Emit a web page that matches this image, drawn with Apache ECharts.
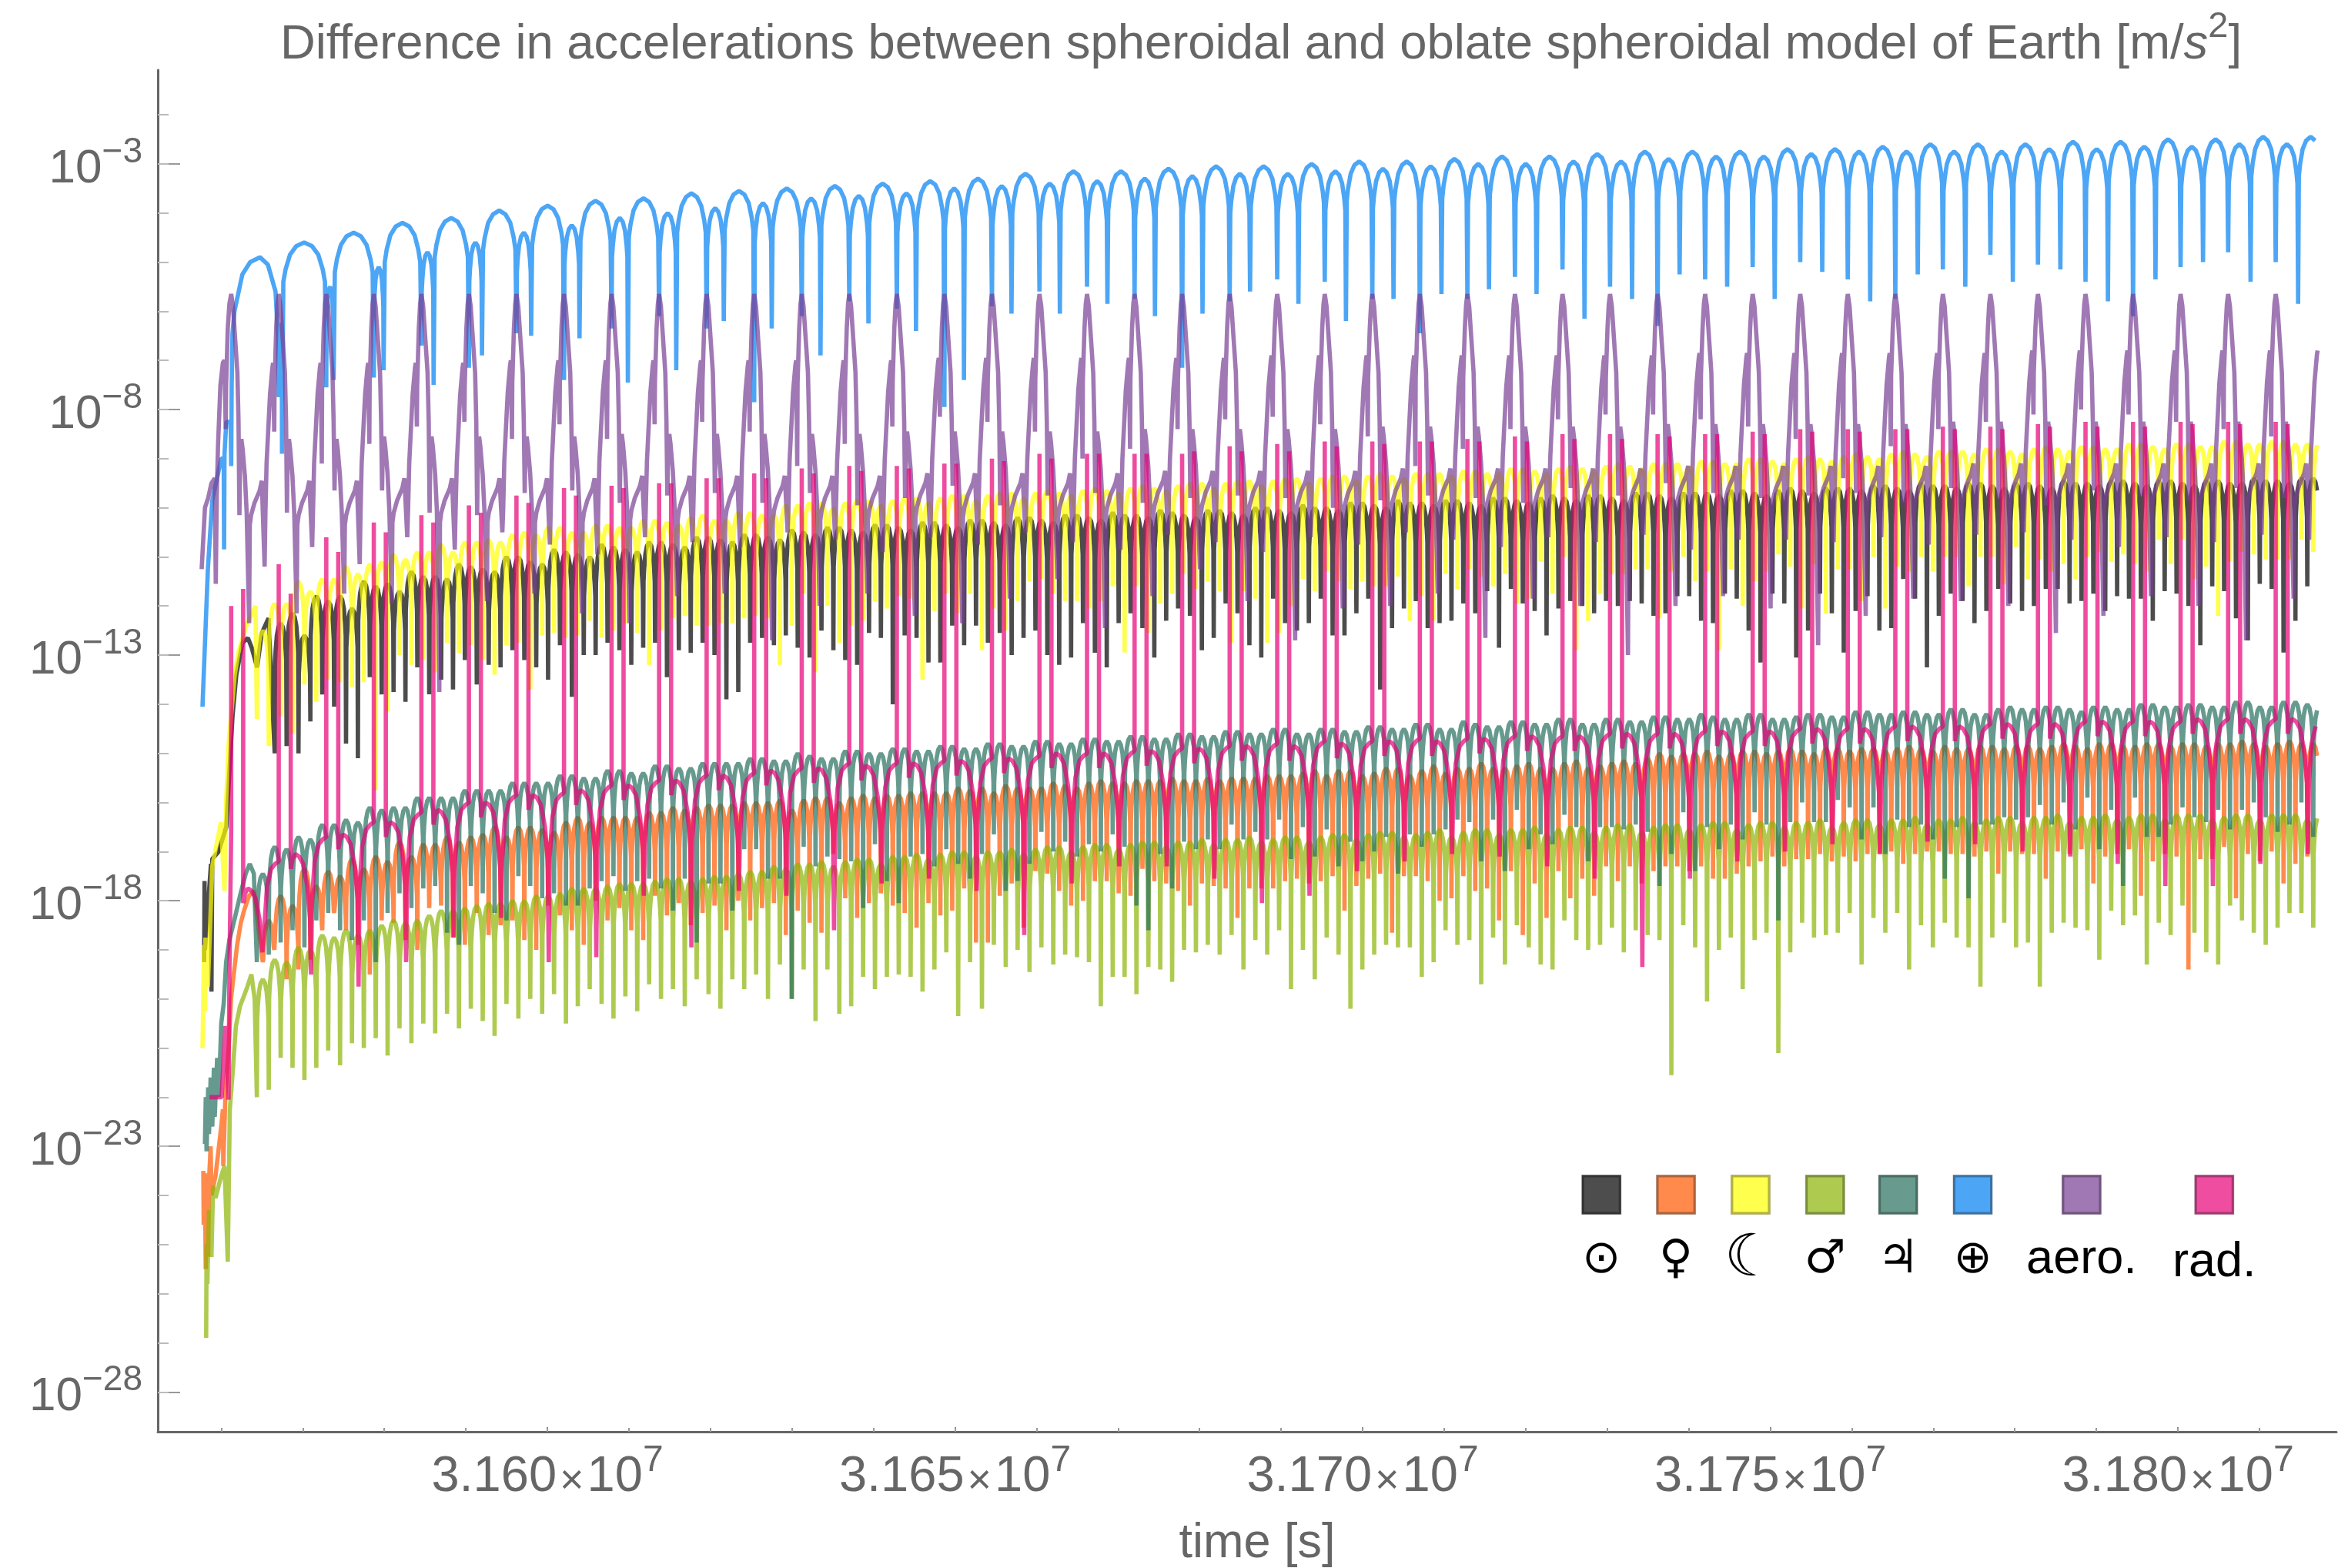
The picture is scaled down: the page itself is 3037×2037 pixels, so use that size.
<!DOCTYPE html>
<html><head><meta charset="utf-8">
<script src="https://cdn.jsdelivr.net/npm/echarts@6/dist/echarts.min.js"></script>
<style>html,body{margin:0;background:#fff}#c{width:3037px;height:2037px}</style></head>
<body><div id="c"></div>
<script>
const titleText='Difference in accelerations between spheroidal and oblate spheroidal model of Earth [m/';
const xTickLabels=[31600000,31650000,31700000,31750000,31800000];
const yTickLabels=[-28,-23,-18,-13,-8,-3];
const names=['Sun','Venus','Moon','Mars','Jupiter','Earth','aero.','rad.'];
const legendSymbols=['\u2299','\u2640','\u263E','\u2642','\u2643','\u2295','aero.','rad.'];
const colors=['#000000','#ff5800','#ffff00','#8bb505','#276f5e','#0080f1','#773e94','#e70078'];
const swatches=['#4d4d4d','#ff8a4c','#ffff4d','#aecb50','#689a8e','#4da6f5','#a078b4','#ee4da0'];
const swatchEdges=['#333333','#b0623a','#b3b336','#7b8f38','#496c63','#3674ac','#70547e','#a73670'];

const archShape=[[.03,16],[.08,11],[.18,5],[.32,1.5],[.5,0],[.68,1.5],[.82,5],[.92,11],[.97,16]];
const orbitStart=112.2, orbitPeriod=58.32, denseStart=143.7, denseStep=14.58, lastTime=2672;

// Earth
const blueHead=[[77,281],[83.6,225],[89,197],[100,180],[103,180],[103.5,217],[104,178],[106.2,165],[111.5,165],[112.2,183],[112.8,150],[113.8,129],[116.2,120],[125.9,105],[135.5,100],[147.5,98],[157.2,101],[166.6,112],[169.5,130]];
const blueDipA=[155,151,147,134,143,129,148,127,122,127,157,122,116,119,159,118,112,110,115,143,116,107,108,115,129,115,106,103,110,126,107,102,100,107,115,103,97,101,108,122,102,96,100];
const blueDipB=[178,148,144,150,138,130,131,149,144,124,127,138,125,128,148,121,121,117,122,121,112,117,124,115,113,111,113,123,115,105,110,115,104,116,105,110,108,103,116,107,100,108,117];
const blueGap=[4,9,12,15,16,18,19,20,21,21,21.5,23,23.5,23.5,24,24,25,25,25,25,25,26,26,26,26.5,26.5,26.5,27,27,27,27,27,27,27.5,27.5,27.5,27.5,27.5,27.5,27.5,27.5,27.5,27.5];
const blueSmall=[125,110,102,96,92,88,85,82,80,78,76,74,73,72,70,69,68,67,66,65,64,64,63,62,61,60,60,59,59,58,57,57,56,55,55,55,55,54,54,53,53,52,52];
const blueMain=[92,88,84,82,79,77,75,74,72,71,70,69,68,67,66,64,63,63,62,61,61,60,59,59,58,57,57,56,55,55,55,54,54,53,52,52,52,51,51,50,50,49,49];

// aero.
const purpleHead=[[76,225],[80,200],[84,196],[88,190],[92,188],[93.3,231],[94.5,195],[96,175],[99,150],[102,141],[104,140],[105.5,168],[106,150],[108,127],[110,117]];
const purplePeak=113;
const purpleSpikeA=[164,169,182,174,167,165,172,166,172,166,165,169,183,174,167,163,165,169,180,176,168,164,163,166,171,183,176,168,164,162,162,164,167,172,188,175,168,165,162,160,162,165,168,171];
const purpleSpikeB=[203,202,193,193,202,203,194,193,198,195,194,198,194,199,196,191,199,195,194,198,196,195,196,200,197,195,196,198,192,195,190,194,196,195,194,198,192,196,199,193,195,197,192,196];
const purpleDip1=[247,243,235,239,275,238,235,243,247,236,235,254,240,235,244,247,237,229,249,236,225,238,254,241,240,235,253,237,240,260,240,236,241,256,244,237,238,240,251,244,236,240,254,237];
const purpleDip2=[224,216,223,212,217,210,215,219,212,214,216,210,213,218,212,215,210,214,217,211,214,218,212,215,210,213,216,212,214,211,217,213,213,214,212,215,211,210,213,216,212,214,211,213];
const purpleHump=[141,141,141,141,141,140,140,140,140,140,140,140,140,140,139,139,139,139,139,139,139,138,138,138,138,138,138,138,138,138,137,137,137,137,137,137,137,136,136,136,136,136,136,136];
const purpleKnee=[189,189,189,188,188,188,188,188,187,187,187,187,187,187,186,186,186,186,186,185,185,185,185,185,184,184,184,184,184,184,183,183,183,183,183,183,182,182,182,182,182,182,182,182];

// rad.
const pinkHead=[[85.5,440],[100.5,440],[105,411],[109,441],[110,390]];
const pinkTop1=[240,223,212,206,203,199,195,192,191,190,188,186,184,183,183,182,180,178,178,178,178,175,174,173,173,173,172,171,170,170,170,170,169,168,168,168,167,167,166,165,165,165,165,165];
const pinkTop2=[233,235,218,210,206,202,198,195,192,190,188,188,186,185,184,182,181,180,178,178,177,177,177,175,174,173,173,173,172,172,171,170,170,169,169,168,168,168,167,167,167,166,166,166];
const pinkLow=[332,344,334,328,324,320,317,316,313,311,309,308,306,304,304,303,302,301,300,299,298,297,296,295,295,294,294,293,293,292,292,291,291,290,290,289,289,288,288,287,287,287,286,286];
const pinkArch=[355,341,333,328,323,320,317,315,313,311,309,307,306,305,304,303,302,300,300,299,298,297,297,296,295,295,294,293,293,292,292,291,291,290,290,289,289,288,288,287,287,286,286,286];
const pinkDip=[375,390,395,385,375,367,385,383,358,379,356,358,372,353,351,356,374,353,346,346,351,361,358,348,344,341,342,346,351,387,351,344,340,337,341,336,337,340,342,345,354,354,345,341];

// Mars
const greenHead=[[81.5,538],[82,500],[83,516],[85,486],[88,505],[90,476],[93,481],[100,472],[104,468],[108,507],[110.5,445],[114,430],[118,411],[123,403],[131,396],[137,390],[141,400]];
const greenTops=[392,384,385,379,380,374,375,372,374,372,370,368,369,368,366,364,364,363,362,361,361,360,360,358,358,357,355,355,355,354,353,353,353,352,351,351,352,351,350,350,349,348,348,346,347,345,345,344,346,344,343,343,345,342,342,341,343,341,340,340,342,340,340,339,341,339,338,338,340,338,337,337,339,337,336,336,338,336,336,335,337,335,335,334,336,335,334,334,336,334,333,333,335,333,332,332,334,333,332,331,334,332,331,331,333,331,331,330,333,331,330,330,332,330,329,329,332,330,329,329,331,329,328,328,331,329,328,328,330,328,328,327,330,328,327,327,329,327,327,326,329,327,327,326,328,327,326,326,328,326,326,325,328,326,326,325,327,326,325,325,327,325,325,325,327,326,325,325,327,325,325,325,327,325,325,325,327,325];
const greenDips=[440,437,424,428,433,428,421,427,418,420,416,423,412,418,410,414,406,412,404,409,415,402,408,400,406,398,410,403,396,402,408,399,405,394,400,396,403,392,398,404,392,396,390,400,
386,400,388,409,388,406,403,391,396,391,390,391,397,388,381,407,385,404,378,387,380,389,379,386,382,383,385,403,391,391,398,387,388,393,380,381,378,382,374,388,376,382,372,396,380,
392,375,382,404,388,382,378,379,379,391,385,372,378,376,394,375,386,370,379,386,388,368,376,380,378,371,381,372,374,376,431,370,379,401,380,375,396,376,373,
422,381,369,375,374,373,365,386,367,373,365,388,370,379,369,375,379,395,375,369,379,377,395,373,369,371,372,384,364,370,366,386,369,374,362,373,381,386,362,368,373,378,371,365,365,371,368];

// Jupiter
const tealHead=[[80,459],[81,440],[82,462],[84,436],[85,455],[87,432],[89,452],[91,428],[92,448],[95,424],[97,440],[100,410],[103,402],[106,385],[110,376],[116,368],[123,358],[130,349],[135,345],[140,349]];
const tealTops=[349,338,339,334,335,329,329,327,328,322,323,322,322,318,318,318,318,315,315,315,315,312,312,312,312,309,309,310,310,307,307,308,308,305,305,306,306,304,304,304,304,302,302,
303,303,300,301,302,302,299,299,300,300,298,298,299,299,297,297,298,298,296,296,297,297,295,295,296,296,294,294,295,295,293,293,294,294,292,292,293,293,291,291,292,292,290,290,292,292,
290,290,291,291,289,289,290,290,288,288,290,290,287,288,289,289,287,287,288,288,286,286,288,288,286,286,287,287,285,285,286,286,284,285,286,286,284,284,286,286,
285,284,284,285,285,283,283,284,284,283,283,284,284,282,282,284,284,282,281,282,282,281,281,282,283,281,281,282,282,280,280,281,281,280,280,281,281,279,279,281,281,279,279,280,281,279,279,280,280,278,279];
const tealDips=[385,382,377,372,379,368,365,372,376,368,385,365,357,363,355,354,373,378,354,357,365,368,350,354,359,357,362,362,355,352,350,356,352,351,355,364,351,377,353,353,364,339,339,351,
351,400,338,346,342,343,344,363,337,352,361,342,341,346,339,345,351,341,333,356,352,345,332,340,336,342,337,340,333,338,362,372,341,355,336,339,335,339,329,335,332,335,327,343,330,
342,331,346,336,344,340,334,349,333,338,333,331,327,328,344,327,348,323,339,333,337,325,330,344,330,330,331,329,332,354,341,324,348,330,339,329,335,324,329,
368,328,320,328,328,319,322,335,322,341,327,330,329,335,351,330,359,329,329,326,327,326,321,329,320,331,318,339,323,354,318,334,334,329,322,326,328,323,331,323,320,326,332,329,320,334,326];

// Venus
const orangeHead=[[78,470],[78.5,492],[80,472],[81,510],[82,471],[84,505],[85,474],[87,460],[88,480],[93,472],[100,452],[102,445],[102.5,468],[105,440],[109,420],[112,400],[116,388],[119.5,378],[124,369],[128,364],[134,358],[140,356],[146,372]];
const orangeTops=[368,358,362,347,354,348,350,343,347,342,344,336,342,337,337,334,336,334,333,330,334,330,330,331,332,328,326,328,326,326,326,326,324,324,322,323,322,321,321,321,320,320,320,
319,323,319,318,318,320,318,317,318,317,317,316,316,316,316,314,315,314,316,313,314,314,314,312,313,314,312,311,312,312,311,311,311,310,311,311,310,311,310,310,310,309,309,309,308,
307,309,307,307,309,308,306,306,309,307,305,308,306,306,304,306,306,305,304,306,306,304,303,306,305,304,303,304,
302,300,301,300,300,299,301,300,299,299,300,299,298,299,300,298,298,299,298,298,299,298,297,298,299,297,298,298,297,297,298,297,297,298,297,296,297,298,296,296,297,297,296,296,297,296,296,297,296,296,295,296,297,296,295,296,296,295,296,296,295,296,295,296,295,295];
const orangeDips=[385,380,392,388,384,372,365,372,378,390,368,369,376,380,363,362,375,378,365,374,370,368,376,380,362,366,372,378,360,368,363,372,376,358,366,361,370,365,362,372,360,368,363,
361,374,364,369,373,341,359,367,361,357,362,365,371,361,366,364,355,377,377,358,353,371,348,349,356,362,360,352,352,357,358,347,352,353,356,362,353,354,355,367,355,355,355,352,351,
353,352,350,364,354,351,349,373,350,350,352,360,359,350,356,355,368,348,374,353,367,348,359,351,358,346,352,346,353,348,346,346,348,346,351,351,349,346,
344,342,346,343,343,341,344,342,344,341,341,340,345,341,340,340,341,341,342,340,349,340,341,341,351,340,341,339,353,342,341,339,358,344,341,342,388,343,343,338,359,341,344,340,353,345,342,344,341];

// Moon
const yellowHead=[[77,420],[79,378],[80,405],[80.6,375],[83.6,395],[89,346],[99.6,328],[104,356],[106.2,318],[109,296],[116.6,268],[121,259],[130.8,248],[142,240]];
const yellowTops=[250,239,239,230,234,229,229,224,227,223,222,219,221,218,218,215,218,214,214,213,214,211,210,211,208,208,210,210,207,207,208,208,205,205,206,207,204,203,205,205,202,202,203,203,
199,199,198,198,200,198,197,197,199,197,196,196,198,196,195,195,197,195,194,194,196,194,193,194,195,193,192,193,194,192,191,192,193,191,190,190,192,190,189,189,191,189,188,188,190,188,187,187,
189,187,186,187,188,186,186,186,187,185,185,186,186,184,184,185,186,184,183,184,185,183,182,183,184,182,182,182,183,181,181,182,182,180,180,181,182,180,179,180,181,179,178,179,180,178,177,178,
179,177,177,177,178,176,176,177,178,176,175,176,177,175,175,176,176,174,174,175,176,174,174,175,175,173,173,174,174,173,173,174,174,173,173,174,174,173,173,174];
const yellowDips=[286,297,285,292,272,279,270,271,273,271,315,283,260,264,262,267,255,259,256,262,268,256,255,274,252,251,253,252,246,253,250,247,251,264,250,245,244,248,248,247,247,245,244,245,
264,248,235,267,240,255,248,246,238,241,236,237,270,242,235,243,235,258,241,250,238,230,229,235,238,238,241,238,232,259,232,251,239,235,227,233,230,234,255,234,237,255,251,240,229,
234,226,230,233,230,232,232,228,246,236,246,227,233,225,228,232,227,239,237,222,235,220,258,246,235,227,227,225,225,245,226,220,230,226,258,225,240,230,226,
219,224,241,223,243,225,225,238,220,241,224,226,220,226,220,220,232,220,220,231,216,229,221,226,223,229,220,218,222,219,223,226,213,223,213,229,224,244,222,218,219,221,221,221,213,218,221,224];

// Sun
const blackHead=[[79,385],[79.5,352],[80,380],[87.4,345],[88,397],[89,343],[96.7,340],[106.2,330],[113.8,285],[118.5,268],[126,255],[132.7,253],[137.4,257],[144,265],[149.7,251],[158,245]];
const blackTops=[247,243,252,236,238,236,241,230,232,231,234,226,228,228,229,223,224,225,226,220,220,222,223,217,218,219,220,215,216,217,218,214,214,215,216,212,212,213,214,211,211,212,213,
209,210,211,208,208,209,210,207,207,208,209,206,206,207,208,205,205,206,207,204,204,205,206,203,203,204,205,202,203,203,204,201,202,203,204,201,201,202,203,200,200,201,202,199,200,200,201,198,
198,199,200,197,198,198,199,197,197,198,199,196,196,197,198,196,195,196,197,195,195,196,197,194,194,195,196,194,194,194,195,193,193,194,195,193,192,193,194,192,192,192,193,191,191,192,193,190,191,191,192,190,190,191,192,190,190,191,192,189,190,190,191,189,189,190,191,189,189,190,191,189,189,190,190,188,189,189,190,188,188,189,190,188,188,189,190,188];
const blackDips=[300,297,300,287,276,281,296,302,269,276,275,279,265,276,270,274,262,272,264,265,258,262,265,270,256,277,260,260,255,258,264,257,255,269,258,259,255,260,278,275,255,253,
256,252,257,261,250,258,262,264,251,253,280,252,253,263,263,248,256,248,255,251,260,253,250,260,264,261,247,259,265,247,243,249,261,246,241,244,258,253,239,243,256,261,237,247,250,
247,237,252,252,243,237,274,249,241,238,249,247,246,239,243,234,257,233,239,242,252,241,238,240,243,238,240,238,239,244,243,236,236,246,247,235,237,250,263,235,
239,261,250,235,243,259,242,236,250,249,229,237,265,244,235,238,247,242,233,239,242,240,233,233,239,238,235,242,236,237,237,246,234,235,240,256,232,234,245,254,231,233,259,246,232,240,236];

const toPoint=([t,v])=>[31550000+100*t, v===null?null:Math.pow(10,-v/20)];
const orbitTime=k=>orbitStart+orbitPeriod*k;
function addArch(out,t0,t1,d0,d1,top){
  archShape.forEach(([u,drop],n)=>{
    const lim=(n<4?d0:d1)-top;
    out.push([t0+(t1-t0)*u, top+Math.min(drop,Math.max(lim,0))]);
  });
}
function denseSeries(head,start,dips,tops){
  const out=head.slice();
  for(let i=0;i<dips.length;i++){
    const t=start+denseStep*i;
    out.push([t,dips[i]]);
    if(i<tops.length&&i+1<dips.length) addArch(out,t,t+denseStep,dips[i],dips[i+1],tops[i]);
  }
  return out;
}
function blueSeries(){
  const out=blueHead.slice();
  blueDipA.forEach((a,i)=>{
    const k=i+1, tA=orbitTime(k), tB=tA+blueGap[i], next=orbitTime(k+1);
    out.push([tA,a]);
    addArch(out,tA,tB,a,blueDipB[i],blueSmall[i]);
    out.push([tB,blueDipB[i]]);
    addArch(out,tB,next,blueDipB[i],i+1<blueDipA.length?blueDipA[i+1]:110,blueMain[i]);
  });
  return out;
}
function purpleSeries(){
  const out=purpleHead.slice();
  purpleDip1.forEach((d1,k)=>{
    const T=orbitTime(k), h=purpleHump[k], n=purpleKnee[k], p=purplePeak, next=purpleSpikeA[k+1]||171;
    [[0,p],[2.2,p+5],[5,p+19],[7.6,p+32],[9,p+52],[10.1,purpleSpikeB[k]],[11,n-12],[12.5,n-17],[14,n-13],[16.8,n-2],[19,n+13],[22,d1],[22.8,n+18],[24.4,n+14],[28.6,n+9],[35,n+4],[37.5,n],[38.7,n],[41,purpleDip2[k]],[42,n+13],[43.4,h+41],[47.6,h+13],[50.5,h+2],[51.4,h],[52.8,next],[53.2,h+9],[55.2,p+14],[56.8,p+4]]
    .forEach(([o,v])=>out.push([T+o,v]));
  });
  return out;
}
function pinkSeries(){
  const out=pinkHead.slice();
  pinkDip.forEach((d,k)=>{
    const T=orbitTime(k), a=pinkArch[k], l=pinkLow[k+1]||286;
    [[0,pinkLow[k]],[0,pinkTop1[k]],[0.01,null],[14.7,pinkTop2[k]],[14.7,a+6],[17,a+2],[20.5,a],[25,a+1],[30,a+4],[35,a+13],[38.3,a+26],[39.6,d],[40.8,l+26],[44,l+10],[49,l+3],[54,l+1]]
    .forEach(([o,v])=>out.push([T+o,v]));
  });
  return out;
}
const tracks=[
  denseSeries(blackHead,denseStart+7.29+denseStep,blackDips,blackTops),
  denseSeries(orangeHead,denseStart+7.29,orangeDips,orangeTops),
  denseSeries(yellowHead,denseStart,yellowDips,yellowTops),
  denseSeries(greenHead,denseStart,greenDips,greenTops),
  denseSeries(tealHead,denseStart,tealDips,tealTops),
  blueSeries(),purpleSeries(),pinkSeries()
];
const series=tracks.map((pts,i)=>({
  type:'line',name:names[i],xAxisIndex:0,yAxisIndex:0,showSymbol:false,silent:true,animation:false,
  connectNulls:false,clip:true,
  lineStyle:{color:colors[i],width:5.6,opacity:.7,join:'bevel',cap:'butt'},
  data:pts.filter(p=>p[0]<=lastTime).map(toPoint)
}));

const yMajor=yTickLabels.map(e=>Math.pow(10,e));
const yMinor=[];for(let e=-28;e<=-2;e++)yMinor.push(Math.pow(10,e));
const xMinor=[];for(let t=31560000;t<=31810000;t+=10000)xMinor.push(t);
const grey='#666666', font='"Liberation Sans",Arial,sans-serif';
const rich={a:{fontFamily:font,fontSize:62,color:grey,lineHeight:76,verticalAlign:'bottom'},
            s:{fontFamily:font,fontSize:46,color:grey,lineHeight:76,verticalAlign:'top'}};
const richX={a:{fontFamily:font,fontSize:65,color:grey,lineHeight:78,verticalAlign:'bottom'},
            s:{fontFamily:font,fontSize:48,color:grey,lineHeight:78,verticalAlign:'top'},
            x:{fontFamily:font,fontSize:54,color:grey,lineHeight:78,verticalAlign:'bottom',padding:[0,4,0,4]}};
const richT={a:{fontFamily:font,fontSize:63.4,color:grey,lineHeight:78,verticalAlign:'bottom'},
            s:{fontFamily:font,fontSize:47,color:grey,lineHeight:78,verticalAlign:'top'},
            i:{fontFamily:font,fontSize:63.4,color:grey,fontStyle:'italic',lineHeight:78,verticalAlign:'bottom'}};
const xRange={type:'value',min:31552220,max:31819450};
const yRange={type:'log',logBase:10,min:Math.pow(10,-28.81),max:Math.pow(10,-1.09)};
const lx=[1074,1124,1174,1224,1273,1323,1396,1485].map(v=>v*1.9369);
const graphics=[];
swatches.forEach((c,i)=>{
  graphics.push({type:'rect',shape:{x:lx[i]-26,y:1526,width:52,height:52},style:{fill:'#bbbbbb'},silent:true});
  graphics.push({type:'rect',shape:{x:lx[i]-24,y:1528,width:48,height:48},style:{fill:c,stroke:swatchEdges[i],lineWidth:3},silent:true});
  const word=i>=6;
  graphics.push({type:'text',x:lx[i],y:i===7?1641:1637,silent:true,style:{text:legendSymbols[i],fill:'#000',align:'center',verticalAlign:'middle',
    fontFamily:word?font:'"DejaVu Sans"',fontSize:word?63:(i===2?76:60)}});
});
const chart=echarts.init(document.getElementById('c'),null,{renderer:'canvas',width:3037,height:2037});
chart.setOption({
  animation:false,backgroundColor:'#fff',
  title:{left:1633,top:7,textAlign:'center',text:`{a|${titleText}}{i|s}{s|2}{a|]}`,textStyle:{fontWeight:'normal',rich:richT}},
  grid:{left:205,right:2,top:91,bottom:177,outerBoundsMode:'none',containLabel:false},
  xAxis:[
    {...xRange,name:'time [s]',nameLocation:'middle',nameGap:114,nameTextStyle:{fontFamily:font,fontSize:63,color:grey,padding:[0,0,0,26]},
     axisLine:{onZero:false,lineStyle:{color:grey,width:3}},splitLine:{show:false},
     axisTick:{show:true,inside:true,length:6,customValues:xTickLabels,lineStyle:{color:'#888',width:2}},
     axisLabel:{show:true,margin:14,customValues:xTickLabels,formatter:v=>`{a|${(v/1e7).toFixed(3)}}{x|\u00D7}{a|10}{s|7}`,rich:richX}},
    {...xRange,position:'bottom',axisLine:{show:false},splitLine:{show:false},axisLabel:{show:false},
     axisTick:{show:true,inside:true,length:5,customValues:xMinor,lineStyle:{color:'#999',width:2}}}
  ],
  yAxis:[
    {...yRange,axisLine:{onZero:false,lineStyle:{color:grey,width:3}},splitLine:{show:false},
     axisTick:{show:true,inside:true,length:29,customValues:yMajor,lineStyle:{color:'#999',width:2}},
     axisLabel:{show:true,margin:20,customValues:yMajor,formatter:v=>`{a|10}{s|\u2212${Math.abs(Math.round(Math.log10(v)))}}`,rich}},
    {...yRange,position:'left',axisLine:{show:false},splitLine:{show:false},axisLabel:{show:false},
     axisTick:{show:true,inside:true,length:14,customValues:yMinor,lineStyle:{color:'#bbb',width:2}}}
  ],
  graphic:graphics,
  series
});
</script></body></html>
